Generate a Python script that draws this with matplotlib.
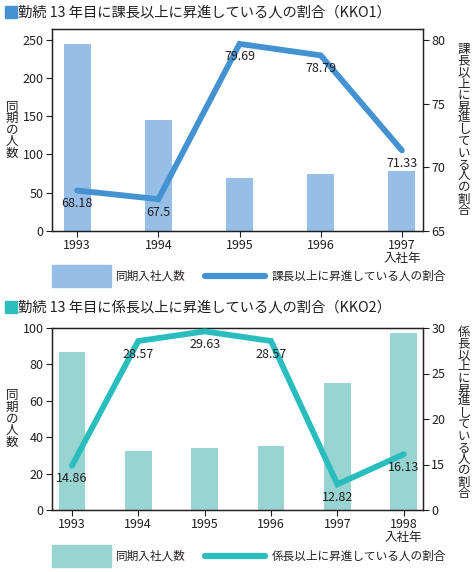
import matplotlib.pyplot as plt
import matplotlib.patches as mpatches
import matplotlib.lines as mlines
import numpy as np

plt.rcParams['font.family'] = ['Noto Sans CJK JP', 'DejaVu Sans']
plt.rcParams['font.size'] = 9
plt.rcParams['text.color'] = '#231f20'
plt.rcParams['axes.edgecolor'] = '#231f20'
plt.rcParams['xtick.color'] = '#231f20'
plt.rcParams['ytick.color'] = '#231f20'

# KKO1
years1 = ['1993', '1994', '1995', '1996', '1997\n入社年']
count1 = [245, 145, 69, 74, 78]
rate1 = [68.18, 67.5, 79.69, 78.79, 71.33]

# KKO2
years2 = ['1993', '1994', '1995', '1996', '1997', '1998\n入社年']
count2 = [86.7, 32.5, 34.1, 35.2, 69.7, 97.1]
rate2 = [14.86, 28.57, 29.63, 28.57, 12.82, 16.13]

# right axis of KKO2 runs 10-30 but its bottom tick is printed as "0"
rticks2 = [10, 15, 20, 25, 30]
rtick_labels2 = ['0', '15', '20', '25', '30']

title1 = '勤続 13 年目に課長以上に昇進している人の割合（KKO1）'
title2 = '勤続 13 年目に係長以上に昇進している人の割合（KKO2）'
left_label = '同期の人数'
right1 = '課長以上に昇進している人の割合'
right2 = '係長以上に昇進している人の割合'
bar_name = '同期入社人数'

bar_c1, line_c1 = '#96bee6', '#4592d2'
bar_c2, line_c2 = '#98d4d1', '#2abdbd'

W, H = 477, 572
fig = plt.figure(figsize=(W / 100, H / 100), dpi=100)


def fx(px):
    return px / W


def fy(py):
    return 1 - py / H


def panel(rect, years, counts, rates, ylim, y2lim, yticks, y2ticks, width,
          xlim, bar_c, line_c, rlabel, rlabel_y, y2labels=None):
    ax = fig.add_axes(rect)
    x = np.arange(len(years))
    ax.bar(x, counts, width=width, color=bar_c, zorder=1)
    ax.set_xlim(*xlim)
    ax.set_ylim(*ylim)
    ax.set_yticks(yticks)
    ax.set_xticks(x)
    ax.set_xticklabels(years, linespacing=0.95)
    ax.tick_params(length=4, width=0.8, pad=2, labelsize=9)
    ax2 = ax.twinx()
    ax2.plot(x, rates, color=line_c, lw=4.2, solid_capstyle='round',
             solid_joinstyle='miter', zorder=3)
    for xi, r in zip(x, rates):
        ax2.annotate(f'{r:g}', (xi, r), xytext=(0, -13), textcoords='offset pixels',
                     ha='center', va='center', fontsize=9, zorder=4)
    ax2.set_ylim(*y2lim)
    ax2.set_yticks(y2ticks)
    if y2labels is not None:
        ax2.set_yticklabels(y2labels)
    ax2.tick_params(length=4, width=0.8, pad=2, labelsize=9)
    for a in (ax, ax2):
        for s in a.spines.values():
            s.set_linewidth(0.9)
    # vertical axis titles
    fig.text(fx(12), rect[1] + rect[3] * 0.5, '\n'.join(left_label), ha='center',
             va='center', fontsize=9, linespacing=0.85)
    fig.text(fx(464), rlabel_y, '\n'.join(rlabel), ha='center', va='top',
             fontsize=9, linespacing=0.85)
    return ax, ax2


# top panel
panel([fx(52), fy(231), fx(423) - fx(52), fy(29) - fy(231)], years1, count1, rate1,
      (0, 264), (65, 80.86), [0, 50, 100, 150, 200, 250], [65, 70, 75, 80], 0.33,
      (-0.31, 4.26), bar_c1, line_c1, right1, fy(43))

# bottom panel
panel([fx(52), fy(510), fx(423) - fx(52), fy(328) - fy(510)], years2, count2, rate2,
      (0, 100), (10, 30), [0, 20, 40, 60, 80, 100], rticks2, 0.4,
      (-0.3, 5.29), bar_c2, line_c2, right2, fy(326), rtick_labels2)


def title(py, text, color):
    fig.add_artist(mpatches.Rectangle((fx(5), fy(py + 6)), fx(12), fy(0) - fy(12),
                                      transform=fig.transFigure, color=color))
    fig.text(fx(18), fy(py), text, ha='left', va='center', fontsize=10.3)


def legend(py, bar_c, line_c, rlabel):
    fig.add_artist(mpatches.Rectangle((fx(52), fy(py + 11)), fx(59), fy(0) - fy(22),
                                      transform=fig.transFigure, color=bar_c))
    fig.text(fx(116), fy(py), bar_name, ha='left', va='center', fontsize=8.4)
    fig.add_artist(mlines.Line2D([fx(205), fx(265)], [fy(py), fy(py)], lw=4.5,
                                 color=line_c, solid_capstyle='round',
                                 transform=fig.transFigure))
    fig.text(fx(272), fy(py), rlabel, ha='left', va='center', fontsize=8.4)


title(12, title1, '#4592d2')
legend(276, bar_c1, line_c1, right1)
title(307, title2, '#2abfbd')
legend(556, bar_c2, line_c2, right2)

fig.savefig('out.png', dpi=100)
